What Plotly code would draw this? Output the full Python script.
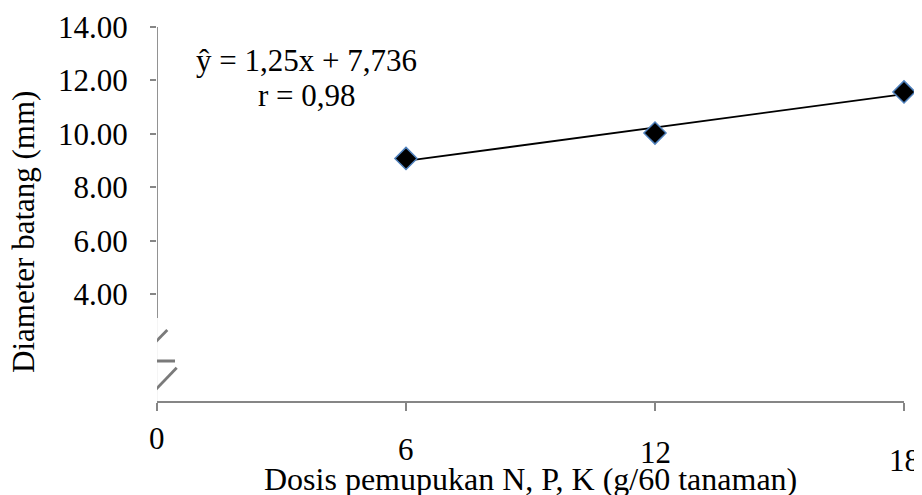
import plotly.graph_objects as go

# Data
dose = [6, 12, 18]
diameter = [9.08, 10.03, 11.57]
slope = 1.25
intercept = 7.736
dose_level = [1, 2, 3]  # regression x index for doses 6, 12, 18
x_ticks = [0, 6, 12, 18]
x_ticklabels = ["0", "6", "12", "18"]
x_label_ypaper = [-0.099, -0.131, -0.139, -0.158]  # staggered label heights
y_ticks = [4, 6, 8, 10, 12, 14]
y_ticklabels = ["4.00", "6.00", "8.00", "10.00", "12.00", "14.00"]

FONT = "Liberation Serif"
FS = 31
AX = "#868686"
BRK = "#7a7a7a"

trend_x = [dose[0], dose[-1]]
trend_y = [slope * dose_level[0] + intercept, slope * dose_level[-1] + intercept]

fig = go.Figure()
fig.add_trace(go.Scatter(x=trend_x, y=trend_y, mode="lines",
                         line=dict(color="black", width=1.8),
                         hoverinfo="skip", showlegend=False, cliponaxis=False))
fig.add_trace(go.Scatter(x=dose, y=diameter, mode="markers",
                         marker=dict(symbol="diamond", size=17, color="black",
                                     line=dict(color="#4F81BD", width=1.5)),
                         showlegend=False, cliponaxis=False))

fig.update_xaxes(range=[0, 18], showgrid=False, zeroline=False, automargin=False,
                 showline=True, linecolor=AX, linewidth=1.8,
                 ticks="outside", ticklen=8, tickcolor=AX, tickwidth=1.8,
                 tickvals=x_ticks, showticklabels=False)
fig.update_yaxes(range=[0, 14], showgrid=False, zeroline=False, showline=False,
                 automargin=False,
                 ticks="outside", ticklen=6, tickcolor=AX, tickwidth=1.8,
                 tickvals=y_ticks, ticktext=y_ticklabels,
                 ticklabelstandoff=16,
                 tickfont=dict(family=FONT, size=FS, color="black"))

# y axis line (upper part) and faint lower part
fig.add_shape(type="line", xref="x", yref="y", x0=0, x1=0, y0=3.107, y1=14,
              line=dict(color=AX, width=1.8))
fig.add_shape(type="line", xref="x", yref="y", x0=0, x1=0, y0=0, y1=3.107,
              line=dict(color="#EBEBEB", width=1))
# axis break symbol
fig.add_shape(type="line", xref="x", yref="y", x0=0.248, y0=2.658, x1=-0.289, y1=1.797,
              line=dict(color=BRK, width=2.8))
fig.add_shape(type="line", xref="x", yref="y", x0=-0.369, y0=1.497, x1=0.434, y1=1.497,
              line=dict(color=BRK, width=2.8))
fig.add_shape(type="line", xref="x", yref="y", x0=0.475, y0=1.247, x1=-0.089, y1=0.333,
              line=dict(color=BRK, width=2.8))

for xv, lab, yv in zip(x_ticks, x_ticklabels, x_label_ypaper):
    fig.add_annotation(x=xv, y=yv, xref="x", yref="paper", text=lab, showarrow=False,
                       xanchor="center", yanchor="middle",
                       font=dict(family=FONT, size=FS, color="black"))

fig.add_annotation(x=9, y=-0.208, xref="x", yref="paper",
                   text="Dosis pemupukan N, P, K (g/60 tanaman)", showarrow=False,
                   xanchor="center", yanchor="middle",
                   font=dict(family=FONT, size=32, color="black"))
fig.add_annotation(x=-0.178, y=6.33, xref="paper", yref="y", text="Diameter batang (mm)",
                   textangle=-90, showarrow=False, xanchor="center", yanchor="middle",
                   font=dict(family=FONT, size=FS, color="black"))

fig.add_annotation(x=3.61, y=12.73, xref="x", yref="y", text="ŷ = 1,25x + 7,736",
                   showarrow=False, font=dict(family=FONT, size=FS, color="black"))
fig.add_annotation(x=3.61, y=11.45, xref="x", yref="y", text="r = 0,98",
                   showarrow=False, font=dict(family=FONT, size=FS, color="black"))

# page body has an 8px offset; figure is sized so the page does not overflow the
# window and the plot area lands at x 157..904, y 27..401 in the screenshot
fig.update_layout(
    width=914, height=487,
    margin=dict(l=149, r=18, t=19, b=94),
    paper_bgcolor="white", plot_bgcolor="white",
)
fig.write_html("out.html")
